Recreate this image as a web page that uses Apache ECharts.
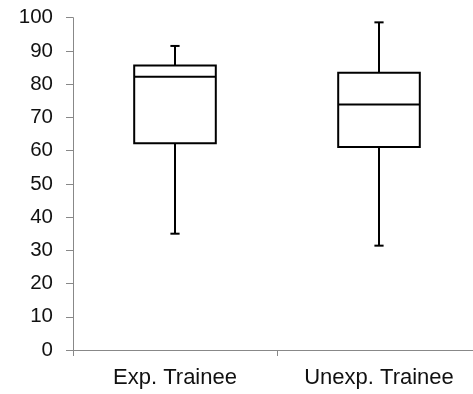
<!DOCTYPE html>
<html>
<head>
<meta charset="utf-8">
<script src="https://cdn.jsdelivr.net/npm/echarts@6/dist/echarts.min.js"></script>
<style>html,body{margin:0;padding:0;background:#fff}#c{width:473px;height:394px}</style>
</head>
<body>
<div id="c"></div>
<script>
const categories = ['Exp. Trainee', 'Unexp. Trainee'];
const minVals = [35.0, 31.4];
const q1Vals = [62.2, 61.1];
const medianVals = [82.2, 73.9];
const q3Vals = [85.6, 83.4];
const maxVals = [91.5, 98.6];
const yTicks = [0, 10, 20, 30, 40, 50, 60, 70, 80, 90, 100];

const data = categories.map((c, i) => [i, minVals[i], q1Vals[i], medianVals[i], q3Vals[i], maxVals[i]]);

const chart = echarts.init(document.getElementById('c'), null, {renderer: 'canvas'});
const font = '"Liberation Sans", Arial, sans-serif';
chart.setOption({
  animation: false,
  backgroundColor: '#fff',
  grid: {left: 73, top: 17.7, width: 408, bottom: 44, containLabel: false, outerBoundsMode: 'none'},
  xAxis: {
    type: 'category',
    data: categories,
    boundaryGap: true,
    axisLine: {show: true, lineStyle: {color: '#888', width: 1}},
    axisTick: {show: true, length: 6, lineStyle: {color: '#888'}},
    axisLabel: {color: '#111', fontSize: 22, fontFamily: font, margin: 17}
  },
  yAxis: {
    type: 'value',
    min: yTicks[0],
    max: yTicks[yTicks.length - 1],
    interval: 10,
    splitLine: {show: false},
    axisLine: {show: true, lineStyle: {color: '#888', width: 1}},
    axisTick: {show: true, inside: false, length: 7, lineStyle: {color: '#888'}},
    axisLabel: {color: '#111', fontSize: 20.5, fontFamily: font, margin: 20}
  },
  series: [{
    type: 'custom',
    data: data,
    encode: {x: 0, y: [1, 2, 3, 4, 5]},
    renderItem: function (params, api) {
      const idx = api.value(0);
      const band = api.size([1, 0])[0];
      const bw = band * 0.4;
      const cw = band * 0.045;
      const pMin = api.coord([idx, api.value(1)]);
      const pQ1 = api.coord([idx, api.value(2)]);
      const pMed = api.coord([idx, api.value(3)]);
      const pQ3 = api.coord([idx, api.value(4)]);
      const pMax = api.coord([idx, api.value(5)]);
      const x = pMed[0];
      const ls = {stroke: '#000', lineWidth: 2, fill: null};
      return {
        type: 'group',
        children: [
          {type: 'line', shape: {x1: x, y1: pQ3[1], x2: x, y2: pMax[1]}, style: ls},
          {type: 'line', shape: {x1: x, y1: pQ1[1], x2: x, y2: pMin[1]}, style: ls},
          {type: 'line', shape: {x1: x - cw / 2, y1: pMax[1], x2: x + cw / 2, y2: pMax[1]}, style: ls},
          {type: 'line', shape: {x1: x - cw / 2, y1: pMin[1], x2: x + cw / 2, y2: pMin[1]}, style: ls},
          {type: 'rect', shape: {x: x - bw / 2, y: pQ3[1], width: bw, height: pQ1[1] - pQ3[1]}, style: {stroke: '#000', lineWidth: 2, fill: '#fff'}},
          {type: 'line', shape: {x1: x - bw / 2, y1: pMed[1], x2: x + bw / 2, y2: pMed[1]}, style: ls}
        ]
      };
    }
  }]
});
</script>
</body>
</html>
